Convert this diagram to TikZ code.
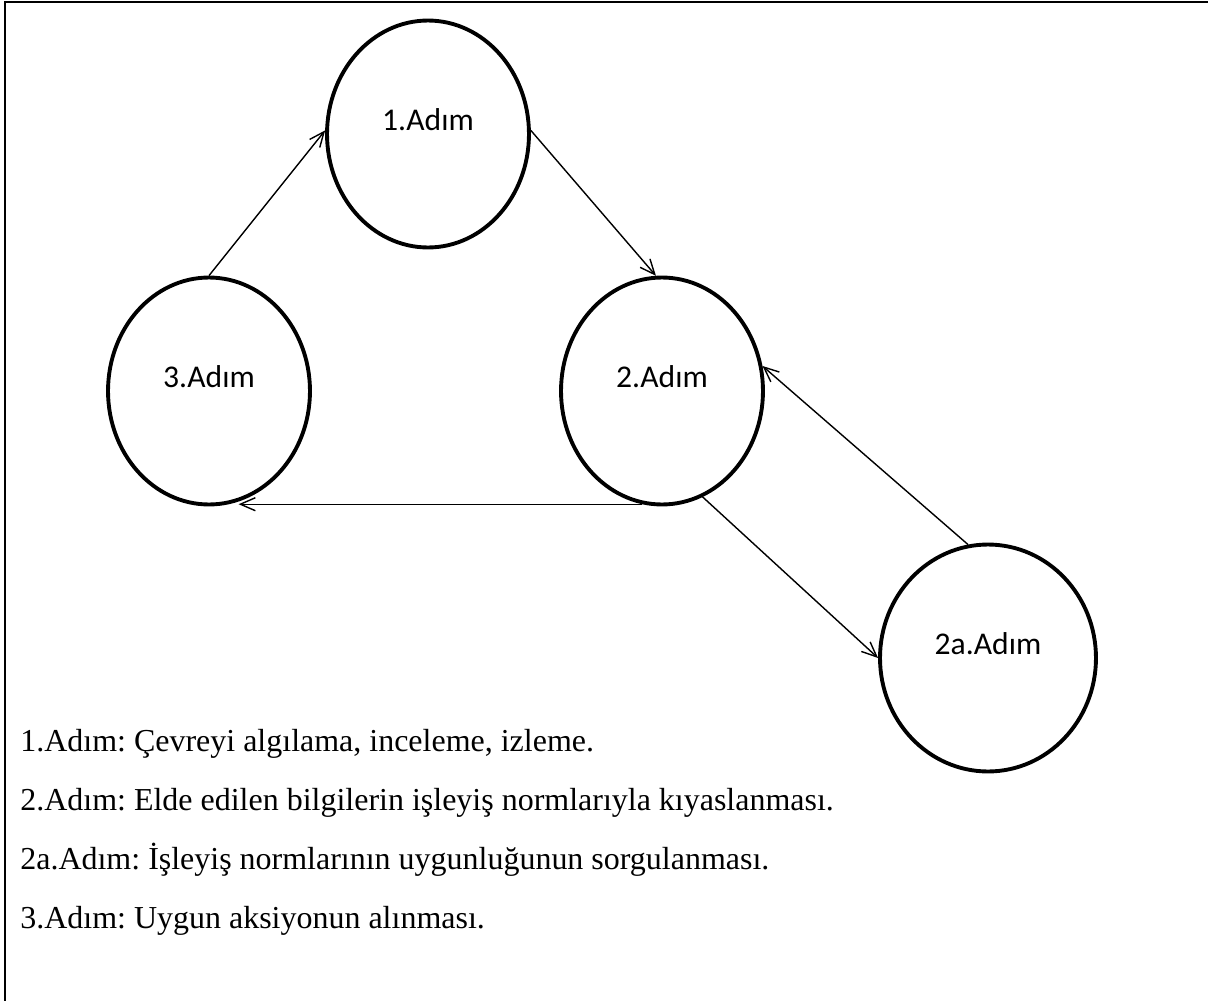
\documentclass[tikz,border=0pt]{standalone}
\usepackage{fontspec}
\setmainfont{Liberation Serif}
\newfontfamily\calibri{Carlito}
\usepackage{tikz}
\usetikzlibrary{shapes.geometric,arrows.meta}
\frenchspacing

\begin{document}
\begin{tikzpicture}[x=0.02cm,y=-0.02cm,
	adim/.style={shape=ellipse,draw=black,line width=2.2pt,minimum width=4.04cm,minimum height=4.54cm,inner sep=0pt,text depth=0.56cm,font=\calibri\fontsize{18}{20}\selectfont},
	akis/.style={line width=0.8pt,-{Straight Barb[length=0.3cm,width=0.26cm]}},
	satir/.style={anchor=base west,inner sep=0pt,font=\fontsize{18.2}{20}\selectfont}]
	\useasboundingbox (0,0) rectangle (1208,1001);
	\coordinate (ust1) at (0,2);
	\coordinate (ust2) at (1208,2);
	\coordinate (sol2) at (5,1001);
	\draw[line width=1.4pt] (sol2) -- (ust1 -| sol2) -- (ust2);

	\node[adim] (s1) at (428, 134)     {1.Adım};
	\node[adim] (s2) at (662, 391)     {2.Adım};
	\node[adim] (s3) at (209, 391)     {3.Adım};
	\node[adim,minimum width=4.32cm] (s2a) at (988, 658)     {2a.Adım};

	\path[akis] (s3.north) edge (s1.178);
	\path[akis] (s1.2) edge (s2.93);
	\path[akis] (s2.-100) edge (s2.-100 -| s3.-75);
	\path[akis] (s2.-69) edge (s2a.west);
	\path[akis] (s2a.100) edge (s2.14);

	\node[satir] (a1) at (20, 751)     {1.Adım: Çevreyi algılama, inceleme, izleme.};
	\node[satir] (a2) at (20, 810)     {2.Adım: Elde edilen bilgilerin işleyiş normlarıyla kıyaslanması.};
	\node[satir] (a2a) at (20, 869)     {2a.Adım: İşleyiş normlarının uygunluğunun sorgulanması.};
	\node[satir] (a3) at (20, 928)     {3.Adım: Uygun aksiyonun alınması.};
\end{tikzpicture}
\end{document}
